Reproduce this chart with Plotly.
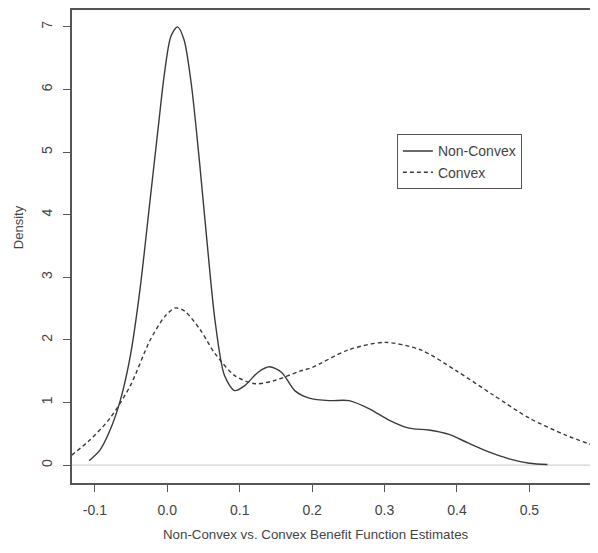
import plotly.graph_objects as go

# Non-Convex density (solid)
nc_x = [-0.108, -0.093, -0.079, -0.065, -0.051, -0.038, -0.024, -0.012, -0.004, 0.005,
        0.014, 0.023, 0.033, 0.044, 0.055, 0.066, 0.079, 0.093, 0.107, 0.125, 0.141,
        0.158, 0.176, 0.196, 0.224, 0.251, 0.279, 0.306, 0.334, 0.361, 0.389, 0.416,
        0.444, 0.472, 0.500, 0.525]
nc_y = [0.07, 0.24, 0.56, 1.03, 1.75, 2.78, 4.21, 5.45, 6.25, 6.85,
        7.00, 6.80, 6.10, 4.90, 3.55, 2.30, 1.43, 1.19, 1.27, 1.48, 1.57,
        1.48, 1.19, 1.07, 1.03, 1.03, 0.90, 0.72, 0.59, 0.56, 0.49, 0.35,
        0.21, 0.10, 0.03, 0.01]

# Convex density (dashed)
cv_x = [-0.132, -0.107, -0.079, -0.051, -0.024, -0.003, 0.011, 0.024, 0.045, 0.066,
        0.093, 0.121, 0.148, 0.183, 0.200, 0.250, 0.300, 0.350, 0.400, 0.450, 0.500,
        0.550, 0.592]
cv_y = [0.16, 0.40, 0.75, 1.27, 1.99, 2.38, 2.51, 2.46, 2.17, 1.78,
        1.43, 1.30, 1.35, 1.50, 1.56, 1.84, 1.96, 1.84, 1.50, 1.12, 0.75,
        0.48, 0.30]

x_ticks = [-0.1, 0.0, 0.1, 0.2, 0.3, 0.4, 0.5]
x_ticktext = ["-0.1", "0.0", "0.1", "0.2", "0.3", "0.4", "0.5"]
y_ticks = [0, 1, 2, 3, 4, 5, 6, 7]

x_title = "Non-Convex vs. Convex Benefit Function Estimates"
y_title = "Density"

line_col = "#3a3a3a"
fam = "Liberation Sans, Arial, sans-serif"
txt = "#444444"

fig = go.Figure()
fig.add_trace(go.Scatter(x=nc_x, y=nc_y, mode="lines", name="Non-Convex",
                         line=dict(color=line_col, width=1.4, shape="spline", smoothing=0.8)))
fig.add_trace(go.Scatter(x=cv_x, y=cv_y, mode="lines", name="Convex",
                         line=dict(color=line_col, width=1.4, dash="4px,3px", shape="spline", smoothing=0.8)))

fig.add_shape(type="line", xref="paper", yref="y", x0=0, x1=1, y0=0, y1=0,
              line=dict(color="#c8c8c8", width=1), layer="below")

fig.add_annotation(text=x_title, xref="x", yref="paper", x=0.205, y=-0.1095,
                   xanchor="center", yanchor="middle", showarrow=False,
                   font=dict(family=fam, size=13.3, color=txt))
fig.add_annotation(text=y_title, xref="paper", yref="paper", x=-0.103, y=0.541,
                   xanchor="center", yanchor="middle", showarrow=False, textangle=-90,
                   font=dict(family=fam, size=13, color=txt))

fig.update_layout(
    width=590, height=545,
    margin=dict(l=64, r=1, t=0, b=70),
    paper_bgcolor="white", plot_bgcolor="white",
    font=dict(family=fam, size=14, color=txt),
    showlegend=True,
    legend=dict(x=0.62, y=0.737, xanchor="left", yanchor="top",
                bordercolor="#555555", borderwidth=1, bgcolor="white",
                font=dict(family=fam, size=14, color=txt),
                tracegroupgap=0, itemwidth=30),
    xaxis=dict(range=[-0.1316, 0.592], tickvals=x_ticks, ticktext=x_ticktext,
               showgrid=False, zeroline=False, showline=True, mirror=True,
               linecolor="#555555", linewidth=1.5, ticks="outside", ticklen=7,
               tickcolor="#555555", ticklabelstandoff=6,
               tickfont=dict(family=fam, size=14, color=txt)),
    yaxis=dict(range=[-0.286, 7.27], tickvals=y_ticks,
               showgrid=False, zeroline=False, showline=True, mirror=True,
               linecolor="#555555", linewidth=1.5, ticks="outside", ticklen=7,
               tickcolor="#555555", tickangle=-90, ticklabelstandoff=6,
               tickfont=dict(family=fam, size=14, color=txt)),
)

fig.write_html("out.html")
